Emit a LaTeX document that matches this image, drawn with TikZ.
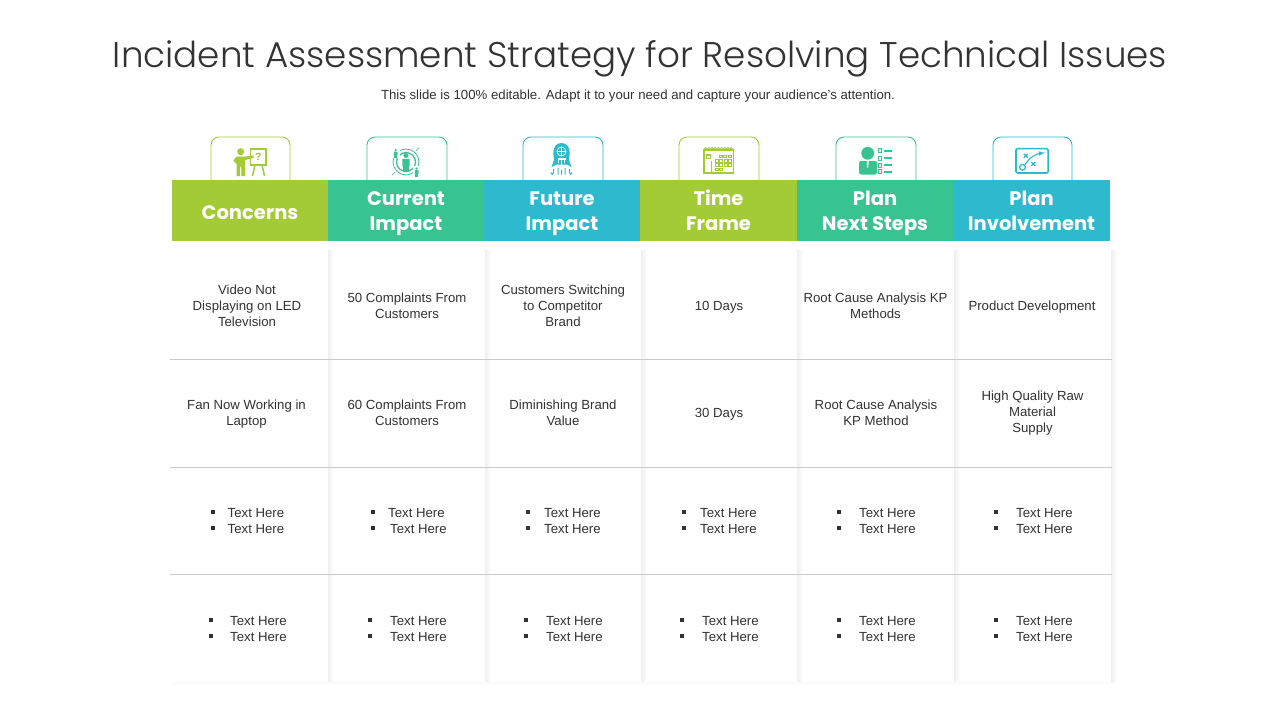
\documentclass[tikz,border=0pt]{standalone}
\usepackage{fontspec}
\setmainfont{Liberation Sans}
\newfontfamily\titlefont{Poppins Light}
\newfontfamily\headfont{Poppins}
\usetikzlibrary{calc}
\definecolor{cgreen}{HTML}{A2CB35}
\definecolor{cteal}{HTML}{38C491}
\definecolor{cblue}{HTML}{2DB9CE}
\definecolor{ink}{HTML}{333333}
\definecolor{rulec}{HTML}{C9C9C9}
\tikzset{
  x=1pt,y=-1pt,
  headbox/.style={minimum height=61pt,inner sep=0pt,outer sep=0pt,text=white,align=center,
     font=\headfont\bfseries\fontsize{19.5}{25}\selectfont},
  cell/.style={text=ink,align=center,inner sep=0pt,font=\fontsize{13.2}{16}\selectfont},
  bul/.style={text=ink,anchor=west,inner sep=0pt,font=\fontsize{13.2}{16}\selectfont},
  sq/.style={fill=ink,minimum size=3.4pt,inner sep=0pt},
}
\newcommand{\hl}[1]{\raisebox{-2.4pt}[17.5pt][7.5pt]{#1}}
\newcommand{\hlone}[1]{\raisebox{-3.6pt}[17.5pt][7.5pt]{#1}}
% person: #1 x, #2 y (head centre), #3 size, #4 colour
\newcommand{\personicon}[4]{%
  \fill[#4] (#1,#2) circle (#3*0.58);
  \fill[#4,rounded corners=0.6pt] (#1-#3*0.85,#2+#3*0.75) rectangle (#1+#3*0.85,#2+#3*2.4);
  \fill[#4] (#1-#3*0.62,#2+#3*2.3) rectangle (#1-#3*0.06,#2+#3*3.7);
  \fill[#4] (#1+#3*0.06,#2+#3*2.3) rectangle (#1+#3*0.62,#2+#3*3.7);
}
\newcommand{\tabbox}[3]{%
  \draw[#3,line width=0.9pt,rounded corners=8pt] (#1,180) -- (#1,137) -- (#2,137) -- (#2,180);
}
\newcommand{\bulcell}[5]{% name, bullet x, text x line1, text x line2, top y
  \node[sq] (#1b1) at (#2,#5) {};
  \node[sq] (#1b2) at (#2,#5+16) {};
  \node[bul] (#1t1) at (#3,#5+1) {Text Here};
  \node[bul] (#1t2) at (#4,#5+17) {Text Here};
}
\begin{document}
\begin{tikzpicture}
\useasboundingbox (0,0) rectangle (1280,720);
\fill[white] (0,0) rectangle (1280,720);

\node[text=ink,inner sep=0pt,font=\titlefont\fontsize{35.7}{44}\selectfont] (title) at (640,58.5) {Incident Assessment Strategy for Resolving Technical Issues};
\node[text=ink,inner sep=0pt,font=\fontsize{13.2}{16}\selectfont] (subtitle) at (638,96) {This slide is 100\% editable. Adapt it to your need and capture your audience’s attention.};

% card shadows
\foreach \r in {328,485,641,797,954,1111}{
  \shade[left color=black!6,right color=white,shading angle=90] (\r,250) rectangle (\r+6,682);
}
\shade[top color=black!2,bottom color=white] (172,682) rectangle (1111,686);

% tabs
\tabbox{211}{290}{cgreen}
\tabbox{367}{447}{cteal}
\tabbox{523}{603}{cblue}
\tabbox{679}{759}{cgreen}
\tabbox{836}{916}{cteal}
\tabbox{993}{1072}{cblue}

% icon 1: presenter and board
\fill[cgreen] (240.7,151.7) circle (3.5);
\fill[cgreen] (236.5,156.5) -- (245,156.5) -- (253.5,155.5) -- (253.5,158) -- (245,160) -- (245,176) -- (241.4,176) -- (241.2,166.5) -- (240.2,166.5) -- (240,176) -- (236.5,176) -- (236.5,164) -- (233.3,160.5) -- cycle;
\draw[cgreen,line width=1.6pt] (250.5,148.8) rectangle (266.2,165);
\node[text=cgreen,inner sep=0pt,font=\bfseries\fontsize{10.5}{10.5}\selectfont] (qmark) at (258.4,157) {?};
\draw[cgreen,line width=1.5pt] (255,165) -- (252.5,176) (262,165) -- (264.5,176);

% icon 2: people in rings
\draw[cteal,line width=0.8pt] (406,162) circle (13);
\draw[cteal,line width=1.3pt] (406,162) circle (9.5);
\personicon{406}{155.5}{4.4}{cteal}
\fill[white] (392,147) rectangle (399.5,158);
\personicon{395.7}{150}{2.2}{cteal}
\fill[white] (413,166) rectangle (420,178);
\personicon{416.7}{168.5}{2.2}{cteal}
\draw[cteal,line width=0.6pt] (416,151) -- (419,147.5) (395,172) -- (392,175);

% icon 3: rocket
\fill[cblue] (561.5,143) .. controls (556,143) and (553.3,147.5) .. (553.3,153) -- (554,160) -- (551.5,167) -- (556.5,164.5) -- (566.5,164.5) -- (571.5,167) -- (569,160) -- (569.7,153) .. controls (569.7,147.5) and (567,143) .. (561.5,143) -- cycle;
\draw[white,line width=0.7pt] (561.5,151.5) circle (4.5) (557,151.5) -- (566,151.5) (561.5,147) -- (561.5,156);
\draw[white,line width=1.1pt] (557.5,159) -- (565.5,159) (561.5,159) -- (561.5,165) (558.5,159) -- (558.5,163) (564.5,159) -- (564.5,163);
\draw[cblue,line width=1pt] (553.7,169) -- (553.7,172.5) .. controls (553.7,175) and (550.8,175) .. (550.8,172.5)
  (558,168) -- (558,174.5) (561.5,170) -- (561.5,174.5) (565,168) -- (565,174.5)
  (569.3,169) -- (569.3,172.5) .. controls (569.3,175) and (572.2,175) .. (572.2,172.5);

% icon 4: calendar
\draw[cgreen,line width=1.6pt] (703.9,150) rectangle (733.5,173);
\foreach \i in {0,1,...,8}{\draw[cgreen,line width=0.9pt] (705.6+\i*3.2,149) circle (1.4);}
\draw[cgreen,line width=1.1pt] (706.5,155) rectangle (710.3,158.8) (711.2,160.7) -- (711.2,172);
\foreach \cx/\cy in {719/155,723.5/155,728/155,715/159.5,719.5/159.5,724/159.5,728.5/159.5,715/163.8,719.5/163.8,724/163.8,728.5/163.8,715/168,719/168}{
  \draw[cgreen,line width=0.9pt] (\cx,\cy) rectangle (\cx+3,\cy+2.7);
}

% icon 5: person with checklist
\fill[cteal] (867.7,153.3) circle (6.4);
\fill[cteal,rounded corners=2pt] (859,174.5) -- (859,161) -- (877,161) -- (877,174.5) -- cycle;
\fill[white] (866.8,161) -- (868.6,161) -- (868.4,167) -- (867.7,168) -- (867,167) -- cycle;
\foreach \yy in {150.7,158.3,165,171.7}{
  \draw[cteal,line width=0.8pt] (878,\yy-1.9) rectangle (881.8,\yy+1.9);
  \draw[cteal,line width=2.2pt] (884,\yy) -- (891.7,\yy);
}

% icon 6: play board
\draw[cblue,line width=1.6pt,rounded corners=1.5pt] (1016,148.6) rectangle (1048.2,173);
\draw[cblue,line width=1.3pt] (1022.5,167.3) circle (2.9);
\draw[cblue,line width=1.1pt,-latex] (1024.6,165) .. controls (1030,157) and (1036,154) .. (1045,152.7);
\draw[cblue,line width=1.2pt] (1023.7,153.8) -- (1027.7,157.8) (1023.7,157.8) -- (1027.7,153.8)
   (1031.3,162) -- (1035.3,166) (1031.3,166) -- (1035.3,162);

% headers
\node[headbox,fill=cgreen,minimum width=156pt,anchor=north west] (h1) at (172,180) {\hlone{Concerns}};
\node[headbox,fill=cteal,minimum width=156pt,anchor=north west] (h2) at (328,180) {\hl{Current}\\\hl{Impact}};
\node[headbox,fill=cblue,minimum width=156pt,anchor=north west] (h3) at (484,180) {\hl{Future}\\\hl{Impact}};
\node[headbox,fill=cgreen,minimum width=157pt,anchor=north west] (h4) at (640,180) {\hl{Time}\\\hl{Frame}};
\node[headbox,fill=cteal,minimum width=156pt,anchor=north west] (h5) at (797,180) {\hl{Plan}\\\hl{Next Steps}};
\node[headbox,fill=cblue,minimum width=157pt,anchor=north west] (h6) at (953,180) {\hl{Plan}\\\hl{Involvement}};

% rules
\foreach \yy in {359.5,467.5,574.5}{\draw[rulec,line width=0.8pt] (170,\yy) -- (1112,\yy);}

% row 1
\node[cell] (a1) at (247,305.5) {Video Not\\Displaying on LED\\Television};
\node[cell] (a2) at (407,305.5) {50 Complaints From\\Customers};
\node[cell] (a3) at (563,305.5) {Customers Switching\\to Competitor\\Brand};
\node[cell] (a4) at (719,307) {10 Days};
\node[cell] (a5) at (875.5,305.5) {Root Cause Analysis KP\\Methods};
\node[cell] (a6) at (1032,307) {Product Development};
% row 2
\node[cell] (b1) at (246.5,414) {Fan Now Working in\\Laptop};
\node[cell] (b2) at (407,413) {60 Complaints From\\Customers};
\node[cell] (b3) at (563,413) {Diminishing Brand\\Value};
\node[cell] (b4) at (719,414) {30 Days};
\node[cell] (b5) at (876,413) {Root Cause Analysis\\KP Method};
\node[cell] (b6) at (1032.5,413.5) {High Quality Raw\\Material\\Supply};
% row 3
\bulcell{c1}{213}{227.5}{227.5}{512}
\bulcell{c2}{373}{388}{390}{512}
\bulcell{c3}{528}{544}{544}{512}
\bulcell{c4}{684}{700}{700}{512}
\bulcell{c5}{839}{859}{859}{512}
\bulcell{c6}{996}{1016}{1016}{512}
% row 4
\bulcell{d1}{211}{230}{230}{620}
\bulcell{d2}{370}{390}{390}{620}
\bulcell{d3}{526}{546}{546}{620}
\bulcell{d4}{682}{702}{702}{620}
\bulcell{d5}{839}{859}{859}{620}
\bulcell{d6}{996}{1016}{1016}{620}
\end{tikzpicture}
\end{document}
